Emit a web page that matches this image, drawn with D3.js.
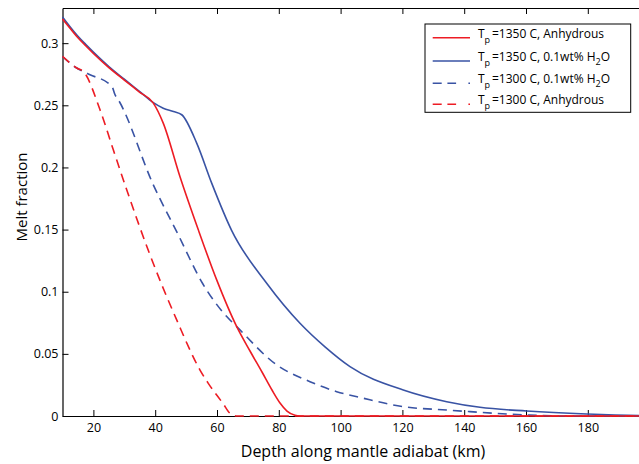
<!DOCTYPE html>
<html>
<head>
<meta charset="utf-8">
<script src="https://cdn.jsdelivr.net/npm/d3@7"></script>
<style>
  html, body { margin: 0; padding: 0; background: #fff; }
  svg { display: block; font-family: "Open Sans", sans-serif; }
</style>
</head>
<body>
<svg id="chart" width="639" height="464"></svg>
<script>
// Melt fraction versus depth along the mantle adiabat for four model runs.

// Tp = 1350 C, anhydrous
const depthA1350 = [10, 12.5, 15, 17.5, 20, 25, 30, 35, 39.4, 42.6, 48.0, 53.95, 59.9, 66.38, 70.68, 74.56, 77.8, 80.39, 82.65, 85.24, 86.86, 100, 150, 200];
const meltA1350  = [0.3195, 0.3118, 0.3043, 0.2979, 0.2917, 0.2803, 0.2703, 0.2605, 0.2518, 0.2357, 0.1927, 0.1498, 0.1095, 0.0719, 0.0523, 0.0354, 0.0209, 0.0105, 0.0040, 0.0006, 0, 0, 0, 0];

// Tp = 1350 C, 0.1 wt% H2O
const depthW1350 = [10, 12.5, 15, 17.5, 20, 25, 30, 35, 39.4, 42.6, 45.9, 48.58, 53.43, 58.28, 64.76, 76.08, 86.86, 94.95, 103.04, 120.29, 134.34, 145.11, 160.23, 179.64, 196.57, 200];
const meltW1350  = [0.321, 0.313, 0.3055, 0.299, 0.2928, 0.2812, 0.271, 0.261, 0.2522, 0.2477, 0.245, 0.2424, 0.2196, 0.1874, 0.1492, 0.1068, 0.0746, 0.0556, 0.0397, 0.0209, 0.0115, 0.007, 0.004, 0.0016, 0.0004, 0.0003];

// Tp = 1300 C, 0.1 wt% H2O
const depthW1300 = [10, 14.6, 16.73, 18.9, 25.37, 26.2, 27.0, 28.06, 39.39, 47.48, 55.3, 63.14, 66.38, 79.32, 90.1, 98.74, 107.35, 120.29, 134.34, 141.88, 160.23, 172, 200];
const meltW1300  = [0.2893, 0.280, 0.2772, 0.2746, 0.2665, 0.2641, 0.2585, 0.2544, 0.186, 0.1457, 0.1068, 0.080, 0.0719, 0.0411, 0.0276, 0.0196, 0.0143, 0.0075, 0.0048, 0.0035, 0.0008, 0, 0];

// Tp = 1300 C, anhydrous
const depthA1300 = [10, 14.6, 16.9, 22.14, 26.44, 30.78, 38.32, 46.96, 54.5, 57.18, 62.04, 64.2, 66.38, 100, 150, 200];
const meltA1300  = [0.2893, 0.280, 0.2768, 0.2464, 0.2142, 0.182, 0.1296, 0.0773, 0.037, 0.0263, 0.0097, 0.0022, 0, 0, 0, 0];

const xTicks = [20, 40, 60, 80, 100, 120, 140, 160, 180];
const yTicks = [0, 0.05, 0.1, 0.15, 0.2, 0.25, 0.3];
const yTickLabels = ["0", "0.05", "0.1", "0.15", "0.2", "0.25", "0.3"];

const RED = "#ed1c24";
const BLUE = "#3953a4";

const series = [
  { depth: depthW1350, melt: meltW1350, color: BLUE, dashed: false },
  { depth: depthW1300, melt: meltW1300, color: BLUE, dashed: true },
  { depth: depthA1350, melt: meltA1350, color: RED, dashed: false },
  { depth: depthA1300, melt: meltA1300, color: RED, dashed: true }
];

const legendItems = [
  { color: RED, dashed: false, temp: "=1350 C, Anhydrous", water: false },
  { color: BLUE, dashed: false, temp: "=1350 C, 0.1wt% H", water: true },
  { color: BLUE, dashed: true, temp: "=1300 C, 0.1wt% H", water: true },
  { color: RED, dashed: true, temp: "=1300 C, Anhydrous", water: false }
];

const svg = d3.select("#chart");
const plotLeft = 62.5, plotRight = 649.6, plotTop = 8, plotBottom = 416;

const x = d3.scaleLinear().domain([10, 200]).range([plotLeft, plotRight]);
const y = d3.scaleLinear().domain([0, 0.3283]).range([plotBottom, plotTop]);

// Axes with inward ticks on all sides
const axisFont = g => g.selectAll("text")
  .style("font-family", "'Open Sans', sans-serif")
  .style("font-size", "12.5px")
  .attr("fill", "#000");
const axisLines = g => {
  g.select(".domain").attr("stroke", "#000").attr("stroke-width", 1.2);
  g.selectAll(".tick line").attr("stroke", "#000").attr("stroke-width", 1);
};

svg.append("g")
  .attr("transform", `translate(0,${plotBottom})`)
  .call(d3.axisBottom(x).tickValues(xTicks).tickSizeInner(-6).tickSizeOuter(0).tickPadding(7))
  .call(axisFont).call(axisLines);

svg.append("g")
  .attr("transform", `translate(0,${plotTop})`)
  .call(d3.axisTop(x).tickValues(xTicks).tickSizeInner(-6).tickSizeOuter(0).tickFormat(""))
  .call(axisLines);

svg.append("g")
  .attr("transform", `translate(${plotLeft},0)`)
  .call(d3.axisLeft(y).tickValues(yTicks).tickSizeInner(-6).tickSizeOuter(0).tickPadding(4)
    .tickFormat((d, i) => yTickLabels[i]))
  .call(axisFont).call(axisLines);

svg.append("g")
  .attr("transform", `translate(${plotRight},0)`)
  .call(d3.axisRight(y).tickValues(yTicks).tickSizeInner(-6).tickSizeOuter(0).tickFormat(""))
  .call(axisLines);

// Curves
const line = d3.line()
  .x(d => x(d[0]))
  .y(d => y(d[1]))
  .curve(d3.curveMonotoneX);

svg.append("g").selectAll("path")
  .data(series)
  .join("path")
  .attr("d", s => line(s.depth.map((d, i) => [d, s.melt[i]])))
  .attr("fill", "none")
  .attr("stroke", s => s.color)
  .attr("stroke-width", 1.6)
  .attr("stroke-dasharray", s => s.dashed ? "9,6" : null);

// Axis titles
svg.append("text")
  .attr("x", 363)
  .attr("y", 457)
  .attr("text-anchor", "middle")
  .style("font-size", "16px")
  .text("Depth along mantle adiabat (km)");

svg.append("text")
  .attr("transform", "translate(26.5,197) rotate(-90)")
  .attr("text-anchor", "middle")
  .style("font-size", "15px")
  .text("Melt fraction");

// Legend
const legend = svg.append("g");
legend.append("rect")
  .attr("x", 425).attr("y", 24)
  .attr("width", 205.7).attr("height", 88.3)
  .attr("fill", "#fff").attr("stroke", "#000").attr("stroke-width", 1);

const rowY = [37.7, 61, 83.3, 104.3];
legendItems.forEach((it, i) => {
  const ry = rowY[i];
  legend.append("line")
    .attr("x1", 432.7).attr("x2", 470)
    .attr("y1", ry).attr("y2", ry)
    .attr("stroke", it.color).attr("stroke-width", 1.6)
    .attr("stroke-dasharray", it.dashed ? "9,5.7,8.7,12.3,1.7,20" : null);
  const t = legend.append("text")
    .attr("x", 478).attr("y", ry)
    .style("font-size", "12px");
  t.append("tspan").text("T");
  t.append("tspan").attr("dy", 5).style("font-size", "9px").text("p");
  t.append("tspan").attr("x", 492).attr("dy", -5).text(it.temp);
  if (it.water) {
    t.append("tspan").attr("dy", 4).style("font-size", "9px").text("2");
    t.append("tspan").attr("dy", -4).text("O");
  }
});
</script>
</body>
</html>
